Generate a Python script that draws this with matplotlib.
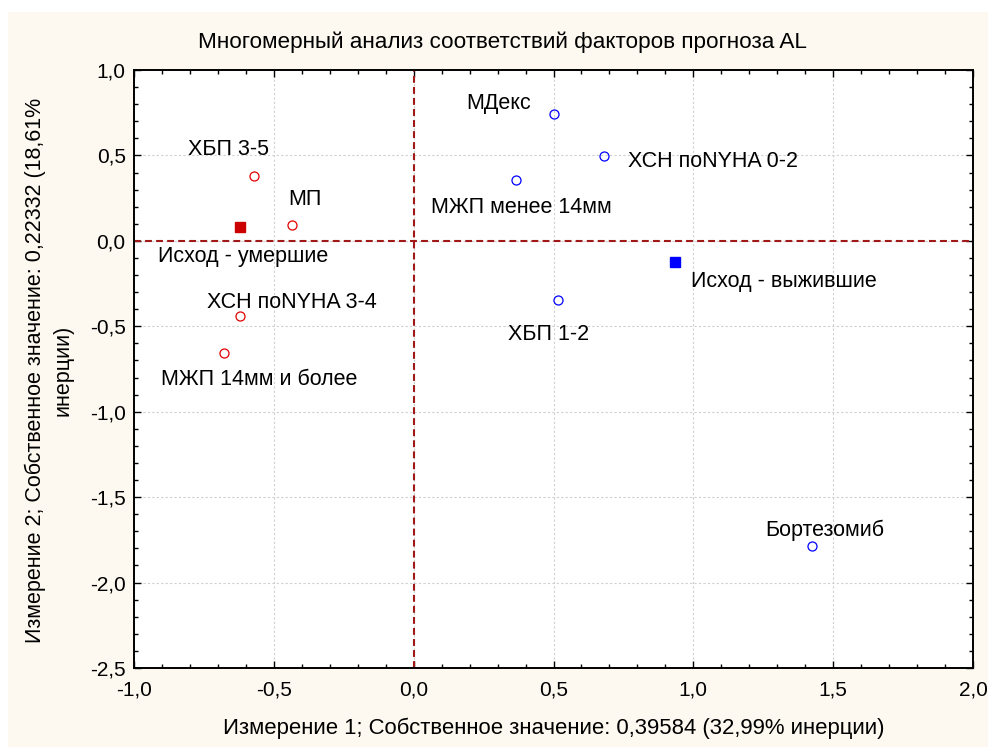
import matplotlib
matplotlib.use('Agg')
import matplotlib.pyplot as plt
from matplotlib.patches import Rectangle
from matplotlib.ticker import MultipleLocator, FuncFormatter

plt.rcParams['font.family'] = ['Liberation Sans', 'DejaVu Sans']

# column points (red) and row points (blue) of the correspondence map
red_labels = ['ХБП 3-5', 'МП', 'ХСН поNYHA 3-4', 'МЖП 14мм и более']
red_x = [-0.571, -0.435, -0.621, -0.678]
red_y = [0.380, 0.094, -0.438, -0.654]

blue_labels = ['МДекс', 'ХСН поNYHA 0-2', 'МЖП менее 14мм', 'ХБП 1-2', 'Бортезомиб']
blue_x = [0.502, 0.680, 0.366, 0.516, 1.424]
blue_y = [0.743, 0.497, 0.357, -0.344, -1.788]

outcome_labels = ['Исход - умершие', 'Исход - выжившие']
outcome_x = [-0.621, 0.934]
outcome_y = [0.082, -0.122]

# label offsets in pixels (left edge, vertical centre)
red_off = [(-66, 26), (-4, 25), (-33, 13), (-63, -27)]
blue_off = [(-88, 10), (24, -6), (-85, -28), (-50, -35), (-47, 16)]
outcome_off = [(-82, -30), (16, -20)]

W, H = 988, 747
fig = plt.figure(figsize=(W / 100, H / 100), dpi=100, facecolor='white')
fig.patches.append(Rectangle((8 / W, 0), 1, 1 - 12 / H, transform=fig.transFigure,
                             facecolor='#fdf9f0', edgecolor='none', zorder=-10))
ax = fig.add_axes([134 / W, 1 - 668 / H, (973 - 134) / W, (668 - 70) / H])
ax.set_facecolor('white')

ax.set_xlim(-1.0, 2.0)
ax.set_ylim(-2.5, 1.0)
ax.xaxis.set_major_locator(MultipleLocator(0.5))
ax.yaxis.set_major_locator(MultipleLocator(0.5))
ax.xaxis.set_minor_locator(MultipleLocator(0.1))
ax.yaxis.set_minor_locator(MultipleLocator(0.1))
comma = FuncFormatter(lambda v, p: ('%.1f' % v).replace('.', ','))
ax.xaxis.set_major_formatter(comma)
ax.yaxis.set_major_formatter(comma)
ax.tick_params(which='both', direction='in', top=True, right=True, labelsize=15, colors='black')
ax.tick_params(which='major', length=5, width=1)
ax.tick_params(which='minor', length=3, width=1)
ax.tick_params(axis='x', pad=9)
ax.tick_params(axis='y', pad=6)
for s in ax.spines.values():
    s.set_linewidth(1.4)
ax.grid(True, which='major', color='#cfcfcf', linestyle=(0, (2, 2)), linewidth=0.8)

ax.axvline(0, color='#a01818', linestyle=(0, (3.3, 2)), linewidth=1.5, zorder=2)
ax.axhline(0, color='#a01818', linestyle=(0, (3.3, 2)), linewidth=1.5, zorder=2)

ax.plot(red_x, red_y, 'o', ms=6.5, mfc='none', mec='#e00000', mew=0.9, zorder=3)
ax.plot(blue_x, blue_y, 'o', ms=6.5, mfc='none', mec='#0000ff', mew=0.9, zorder=3)
ax.plot(outcome_x[0], outcome_y[0], 's', ms=6.5, color='#cc0000', zorder=3)
ax.plot(outcome_x[1], outcome_y[1], 's', ms=6.5, color='#0000ff', zorder=3)

for labels, xs, ys, offs in [(red_labels, red_x, red_y, red_off),
                             (blue_labels, blue_x, blue_y, blue_off),
                             (outcome_labels, outcome_x, outcome_y, outcome_off)]:
    for lab, x, y, (dx, dy) in zip(labels, xs, ys, offs):
        ax.annotate(lab, (x, y), xytext=(dx, dy), textcoords='offset pixels',
                    ha='left', va='center', fontsize=15.5, zorder=4)

fig.text(502 / W, 1 - 42 / H, 'Многомерный анализ соответствий факторов прогноза AL',
         ha='center', va='center', fontsize=16.2)
fig.text(554 / W, 1 - 728 / H, 'Измерение 1; Собственное значение: 0,39584 (32,99% инерции)',
         ha='center', va='center', fontsize=15.9)
fig.text(49 / W, 1 - 370 / H, 'Измерение 2; Собственное значение: 0,22332 (18,61%\nинерции)',
         ha='center', va='center', rotation=90, fontsize=15.5, linespacing=1.45)

fig.savefig('out.png', dpi=100, facecolor=fig.get_facecolor())
